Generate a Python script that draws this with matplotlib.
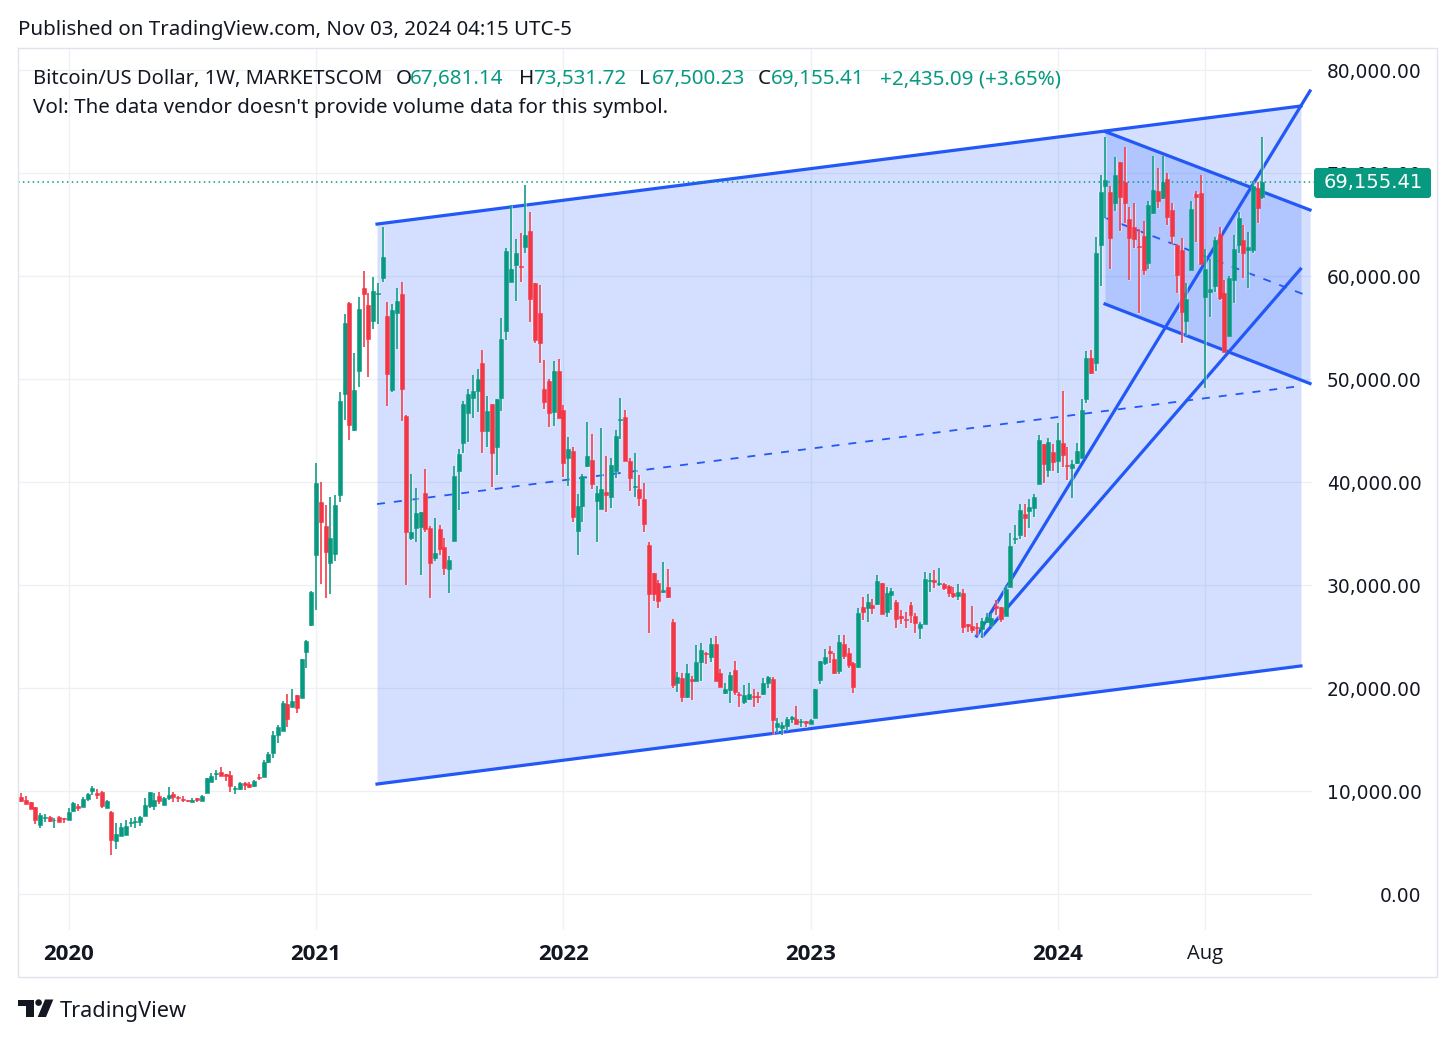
import numpy as np
import matplotlib
matplotlib.use('Agg')
import matplotlib.pyplot as plt
from matplotlib.patches import FancyBboxPatch, Polygon, Circle

# weekly candles, price in thousands of USD
opens = [9.39,9.13,8.97,8.42,6.70,7.35,7.45,7.16,7.45,7.39,
7.22,8.06,8.58,8.48,9.23,10.0,9.78,9.94,8.39,8.0,
5.18,5.67,5.73,6.86,6.96,6.96,7.61,8.58,8.58,9.55,
8.61,9.29,9.68,9.39,9.23,9.1,8.94,9.29,9.07,9.78,
10.91,11.69,11.85,11.66,11.56,10.2,10.2,10.82,10.69,10.53,
11.37,11.4,12.79,13.67,15.45,15.87,18.42,18.2,19.33,19.07,
23.48,26.13,32.92,38.04,35.74,32.18,33.02,38.75,48.53,57.43,
45.06,50.83,58.86,57.2,55.65,58.24,59.86,56.14,48.95,56.46,
58.24,46.42,34.6,35.58,35.67,38.91,35.51,32.6,35.45,33.73,
31.53,34.31,41.08,43.83,46.68,48.2,48.85,51.54,44.97,47.56,
43.44,48.14,54.68,59.47,61.09,60.99,62.87,64.39,59.38,56.46,
49.05,49.86,46.78,50.8,47.0,42.31,43.02,35.29,37.68,41.57,
42.2,38.2,37.39,39.01,38.59,41.08,46.04,46.29,42.05,39.56,
39.33,38.33,33.89,31.2,30.23,29.3,29.78,26.45,20.46,20.94,
19.16,20.84,20.71,22.49,23.43,23.05,24.25,21.43,19.48,19.81,
21.75,19.42,18.67,18.93,19.26,19.23,19.42,20.52,20.84,16.18,
16.08,16.31,17.02,16.99,16.67,16.76,16.5,17.05,20.78,22.46,
23.63,22.79,21.66,24.25,23.44,22.4,22.01,27.91,27.81,28.07,
28.16,30.24,27.42,29.04,28.36,26.97,26.74,28.03,27.03,25.8,
26.19,30.37,30.5,30.11,30.11,29.95,29.2,28.94,29.2,26.19,
26.03,25.96,25.7,26.45,26.13,28.0,27.91,27.03,29.85,34.45,
34.87,36.94,37.23,37.46,39.82,43.71,41.18,42.9,42.09,43.84,
41.63,41.41,41.83,42.31,48.05,52.03,51.54,63.04,68.8,68.22,
67.08,71.13,69.19,65.53,64.82,62.97,63.91,61.32,66.11,68.32,
67.57,69.45,66.44,63.04,62.55,55.65,60.61,67.99,68.06,58.02,
58.5,59.05,64.11,58.34,54.23,59.64,63.04,63.52,62.55,62.55,
68.6,67.68]
closes = [9.07,8.78,8.3,7.19,7.67,7.48,7.12,7.22,7.03,7.32,
7.96,8.81,8.32,9.23,9.68,10.3,9.58,8.55,9.03,5.25,
5.83,6.54,6.6,6.96,7.06,7.45,8.65,9.94,9.13,9.03,
9.36,9.65,9.39,9.32,9.16,9.0,9.13,9.13,9.52,11.27,
11.5,11.79,11.5,11.5,10.49,10.3,10.82,10.56,10.36,10.98,
11.24,12.79,13.57,15.45,16.19,18.52,16.97,18.78,18.04,22.8,
24.61,29.33,39.95,36.16,33.18,34.54,37.78,47.88,55.43,45.55,
48.95,56.82,58.27,53.87,58.53,58.34,61.84,50.47,56.72,57.63,
49.08,35.12,35.12,36.97,37.07,35.45,32.11,33.08,33.47,31.69,
32.44,40.59,42.7,47.56,48.56,48.85,50.02,44.97,46.91,42.86,
48.04,53.87,62.45,60.67,62.29,60.87,63.97,57.76,53.81,53.48,
47.82,46.75,50.8,46.2,41.83,43.19,36.64,37.68,40.6,42.54,
39.82,38.91,39.33,38.75,41.66,44.48,46.13,42.05,40.37,39.66,
38.43,35.9,29.1,29.1,28.49,29.52,28.87,20.29,21.1,19.16,
21.49,20.71,22.56,23.69,23.27,24.28,20.71,20.13,19.9,21.27,
19.65,19.32,19.32,19.42,19.16,19.16,20.46,21.04,16.89,16.57,
16.41,16.96,17.15,16.5,16.76,16.57,16.89,19.9,22.62,22.98,
23.37,21.49,24.47,23.15,22.24,20.07,27.26,27.42,28.39,27.74,
30.43,27.16,29.2,29.46,26.68,26.84,26.61,27.13,26.32,26.22,
30.59,30.5,30.27,30.24,29.75,29.2,28.94,29.3,25.9,26.06,
25.64,25.8,26.51,26.87,26.77,27.81,26.67,29.62,33.83,34.61,
37.26,36.55,37.62,38.59,44.1,41.76,43.93,41.99,44.1,42.64,
41.54,41.77,43.03,47.01,52.03,50.64,62.23,68.15,69.35,63.68,
69.8,67.67,67.08,63.75,63.59,62.81,60.61,66.92,68.38,67.34,
69.16,65.79,63.94,60.16,56.5,57.79,66.53,67.73,61.19,60.71,
58.76,63.52,57.86,52.68,59.8,62.65,65.69,62.23,62.88,68.77,
66.6,69.155]
highs = [9.78,9.52,8.97,8.42,7.84,7.74,7.58,7.35,7.58,7.39,
8.32,8.9,8.74,9.46,9.84,10.46,10.2,10.0,9.13,8.1,
6.86,6.86,7.19,7.42,7.51,7.61,9.36,9.94,9.78,9.87,
9.46,10.36,9.87,9.55,9.55,9.1,9.29,9.29,9.58,11.3,
11.72,12.04,12.37,11.66,11.98,10.49,10.9,10.9,10.85,11.1,
11.63,13.05,13.76,15.87,16.38,18.72,19.4,19.88,19.33,22.8,
24.67,29.4,41.89,39.98,37.78,38.52,38.72,48.79,56.3,57.5,
52.58,58.02,60.51,58.34,59.96,59.31,64.82,57.47,57.3,58.89,
59.47,46.5,40.79,39.4,37.1,41.27,35.7,36.55,35.84,34.6,
32.82,41.57,43.19,47.88,49.01,50.41,50.99,52.83,48.4,47.56,
48.1,55.98,62.71,66.92,63.62,64.17,68.86,66.21,59.38,59.15,
51.86,50.0,51.8,52.0,47.49,44.35,43.44,38.85,40.79,45.81,
44.68,39.63,45.23,42.54,42.31,45.06,48.14,47.0,42.31,42.8,
40.69,39.88,34.15,31.2,30.49,32.27,31.56,26.67,21.59,21.43,
22.33,21.17,24.18,24.34,23.53,24.83,25.05,21.82,20.46,21.52,
22.66,19.65,20.29,20.46,19.87,19.65,20.94,21.2,21.04,17.06,
16.67,17.22,17.28,18.25,16.96,16.84,17.0,19.9,22.62,23.76,
24.11,23.37,25.15,25.15,23.92,22.56,27.74,28.81,29.1,28.62,
30.98,30.24,29.85,29.69,28.55,27.58,27.42,28.33,27.32,26.45,
31.24,31.14,31.47,31.63,30.24,30.05,29.85,30.08,29.59,26.19,
28.0,26.29,26.77,27.32,27.26,28.55,27.91,30.0,35.03,35.84,
37.88,37.88,38.33,38.82,44.58,43.71,44.26,43.71,45.78,48.89,
43.45,42.15,43.77,48.05,52.74,52.84,63.85,69.84,73.56,68.8,
71.55,71.13,72.59,66.76,67.08,64.56,65.32,67.31,71.72,70.49,
71.72,70.0,67.08,63.14,63.68,59.31,67.31,68.32,69.84,62.62,
61.65,63.78,64.82,59.64,60.0,64.0,66.28,64.98,64.27,69.3,
69.19,73.53]
lows = [8.9,8.78,8.3,6.77,6.44,7.03,7.03,6.38,6.96,6.86,
7.22,7.93,8.09,8.48,9.03,9.58,9.23,8.39,8.39,3.79,
4.34,5.67,5.73,6.54,6.44,6.64,7.61,8.4,8.16,8.74,
8.61,9.13,8.97,8.9,8.9,8.9,8.94,8.97,9.07,9.78,
10.85,11.07,11.5,11.0,9.91,9.75,10.1,10.1,10.25,10.4,
11.1,11.33,12.69,13.18,14.7,15.87,16.19,18.13,17.62,19.07,
21.92,26.0,27.58,30.07,28.71,29.13,32.37,38.04,46.04,44.09,
45.0,49.27,53.16,50.24,54.84,55.33,59.47,47.43,48.72,52.98,
45.97,30.01,34.38,34.22,30.98,35.19,28.78,32.37,32.92,30.98,
29.26,34.31,37.29,42.8,43.87,46.26,46.84,42.8,43.44,39.56,
40.69,46.91,53.81,59.47,57.59,59.47,62.22,55.59,53.48,51.6,
47.1,45.39,45.48,46.2,40.53,39.62,36.1,32.92,36.16,41.44,
39.3,34.22,37.39,37.13,37.52,40.43,44.16,42.05,39.14,38.59,
37.68,35.19,25.38,28.49,27.74,29.2,28.78,20.05,19.65,18.61,
19.0,18.84,20.71,20.71,22.33,22.56,20.71,20.07,19.42,18.51,
19.32,18.19,18.45,18.84,18.12,18.58,19.32,19.97,15.5,15.76,
15.44,15.92,16.57,16.5,16.25,16.25,16.5,17.05,20.36,22.24,
22.46,21.36,21.33,22.79,21.92,19.55,21.92,26.61,26.45,27.16,
28.07,27.16,26.87,27.58,25.8,26.22,25.8,26.29,25.31,24.73,
26.19,29.36,29.69,29.91,29.52,28.81,28.71,28.55,25.38,25.48,
25.31,25.15,24.89,26.29,26.0,27.1,26.45,27.03,29.85,33.99,
34.48,34.7,35.58,36.65,39.82,39.89,40.47,41.12,40.92,41.44,
40.21,38.43,41.77,42.31,47.66,50.48,50.83,59.09,65.63,60.71,
66.37,64.43,65.14,59.64,62.71,56.46,60.12,60.71,66.05,66.6,
67.51,64.94,63.13,58.34,53.49,54.3,60.61,63.36,61.19,49.11,
56.08,58.5,57.7,52.68,54.23,57.44,62.29,59.8,58.83,62.3,
65.14,67.5]

# drawings: week index, price in thousands
big_x = [74.83, 269.1]
big_top = [65.07, 76.54]
big_bottom = [10.68, 22.15]
inner_x = [227.9, 271.0]
inner_top = [74.06, 66.44]
inner_bottom = [57.31, 49.58]
trend1_x = [200.9, 271.0]
trend1_y = [25.06, 78.0]
trend2_x = [202.2, 269.0]
trend2_y = [25.06, 60.7]

year_ticks = [10, 62, 114, 166, 218, 249]
year_labels = ['2020', '2021', '2022', '2023', '2024', 'Aug']
price_ticks = [0, 10, 20, 30, 40, 50, 60, 70, 80]
last_close = 69.15541

GREEN = '#089981'
RED = '#F23645'
BLUE = '#2962FF'
LINE = '#2258f6'
INK = '#131722'
GRID = '#eef0f3'
FONT = 'Noto Sans'

W, H = 1456, 1040
fig = plt.figure(figsize=(W/100, H/100), dpi=100, facecolor='white')

# pane pixels: x 18..1312, y 48..930, 4.756 px a week, 102.95 px per 10k
ax = fig.add_axes([18/W, 1-930/H, (1312-18)/W, (930-48)/H])
ax.set_xlim(62+(18-316)/4.756, 62+(1312-316)/4.756)
ax.set_ylim((894-930)*0.09713, (894-48)*0.09713)
for s in ax.spines.values():
    s.set_visible(False)

ax.set_xticks(year_ticks)
ax.set_xticklabels(year_labels, fontsize=14.5, color=INK, family='Open Sans')
for lab in ax.get_xticklabels()[:5]:
    lab.set_fontweight('bold')
    lab.set_fontsize(16)
ax.set_yticks(price_ticks)
ax.set_yticklabels(['%s.00' % format(p*1000, ',d') for p in price_ticks],
                   fontsize=13.4, color=INK, ha='right')
ax.yaxis.tick_right()
ax.tick_params(axis='y', length=0, pad=79)
ax.tick_params(axis='x', length=0, pad=10)
ax.grid(True, color=GRID, lw=1.0)
ax.set_axisbelow(True)

# channels
ax.fill_between(big_x, big_bottom, big_top, color=BLUE, alpha=0.2, lw=0, zorder=1)
ax.fill_between(inner_x, inner_bottom, inner_top, color=BLUE, alpha=0.2, lw=0, zorder=1)
ax.plot(big_x, big_top, color=LINE, lw=2.3, zorder=2)
ax.plot(big_x, big_bottom, color=LINE, lw=2.3, zorder=2)
ax.plot(big_x, np.add(big_top, big_bottom)/2, color=LINE, lw=1.3, dashes=(4.4, 5.0), zorder=2)
ax.plot(inner_x, inner_top, color=LINE, lw=2.3, zorder=2)
ax.plot(inner_x, inner_bottom, color=LINE, lw=2.3, zorder=2)
ax.plot(inner_x, np.add(inner_top, inner_bottom)/2, color=LINE, lw=1.3, dashes=(4.4, 5.0), zorder=2)
ax.plot(trend1_x, trend1_y, color=LINE, lw=2.3, zorder=2)
ax.plot(trend2_x, trend2_y, color=LINE, lw=2.3, zorder=2)

# candles, with the pale halo they have on the shaded area
o = np.array(opens)
c = np.array(closes)
hi = np.array(highs)
lo = np.array(lows)
x = np.arange(len(o))
col = np.where(c >= o, GREEN, RED)
ax.vlines(x, lo, hi, colors='white', lw=2.2, alpha=0.45, zorder=2.5)
ax.bar(x, np.abs(c-o), bottom=np.minimum(o, c), width=1.0, color='white',
       alpha=0.45, lw=0, zorder=2.6)
ax.vlines(x, lo, hi, colors=col, lw=1.15, zorder=3)
ax.bar(x, np.abs(c-o), bottom=np.minimum(o, c), width=0.84, color=col,
       edgecolor=col, lw=0.4, zorder=4)

# last price line
ax.plot([ax.get_xlim()[0], 272], [last_close, last_close], color=GREEN, lw=1.1,
        dashes=(1, 2.2), zorder=5, clip_on=False)

# pixel overlay for frame, header, price tag, logo
ov = fig.add_axes([0, 0, 1, 1], zorder=5)
ov.set_xlim(0, W)
ov.set_ylim(H, 0)
ov.axis('off')
ov.patch.set_alpha(0)

ov.plot([18, 18, 1437, 1437, 18], [48, 977, 977, 48, 48], color='#e0e3eb', lw=1.0)

ov.text(18, 30, 'Published on TradingView.com, Nov 03, 2024 04:15 UTC-5',
        fontsize=14.73, color=INK, family=FONT, va='center')
ov.text(33, 79, 'Bitcoin/US Dollar, 1W, MARKETSCOM', fontsize=14.5, color=INK, family=FONT, va='center')
ov.text(33, 108, "Vol: The data vendor doesn't provide volume data for this symbol.",
        fontsize=14.8, color=INK, family=FONT, va='center')
for px, txt, tcol in [(396, 'O', INK), (410, '67,681.14', GREEN),
                      (519, 'H', INK), (533, '73,531.72', GREEN),
                      (639, 'L', INK), (652, '67,500.23', GREEN),
                      (758, 'C', INK), (771, '69,155.41', GREEN),
                      (880, '+2,435.09 (+3.65%)', GREEN)]:
    ov.text(px, 79, txt, fontsize=14.85, color=tcol, family=FONT, va='center')

ov.add_patch(FancyBboxPatch((1316, 170), 113, 26, boxstyle='round,pad=2,rounding_size=3',
                            fc=GREEN, ec='none'))
ov.text(1373, 183, '69,155.41', fontsize=14, color='white', ha='center', va='center')

# logo
ov.add_patch(Polygon([(18.3, 999.5), (33.5, 999.5), (33.5, 1017), (26, 1017), (26, 1006), (18.3, 1006)],
                     fc=INK, ec='none'))
ov.add_patch(Circle((38.6, 1002.6), 3.3, fc=INK, ec='none'))
ov.add_patch(Polygon([(45, 999.5), (53.3, 999.5), (46, 1017), (37.7, 1017)], fc=INK, ec='none'))
ov.text(60, 1012, 'TradingView', fontsize=15.6, color=INK, family=FONT, va='center')

fig.savefig('out.png', dpi=100)
